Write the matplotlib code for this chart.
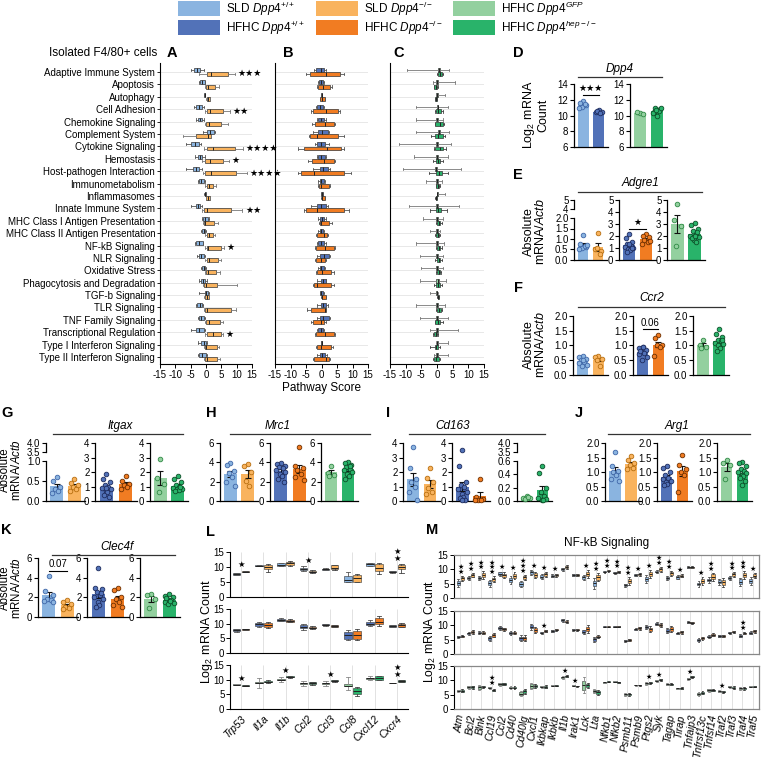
import numpy as np
import matplotlib
matplotlib.use('Agg')
import matplotlib.pyplot as plt
from matplotlib.patches import Rectangle

plt.rcParams['font.family'] = ['Liberation Sans', 'DejaVu Sans']
plt.rcParams['mathtext.fontset'] = 'custom'
plt.rcParams['mathtext.rm'] = 'Liberation Sans'
plt.rcParams['mathtext.it'] = 'Liberation Sans:italic'
plt.rcParams['mathtext.bf'] = 'Liberation Sans:bold'
plt.rcParams['axes.unicode_minus'] = False

# ---------------- colours / groups ----------------
C_SLD_WT, C_HFHC_WT = '#8AB4E0', '#5272B8'
C_SLD_KO, C_HFHC_KO = '#F9B35E', '#F17C22'
C_GFP, C_HEP = '#93D09F', '#29B36A'
E_SLD_WT, E_HFHC_WT = '#3F67A8', '#1E2C5E'
E_SLD_KO, E_HFHC_KO = '#B86F10', '#6E3000'
E_GFP, E_HEP = '#2F8A45', '#0C4F28'

GROUP_LABELS = [r"SLD $\mathit{Dpp4}^{+/+}$", r"HFHC $\mathit{Dpp4}^{+/+}$",
                r"SLD $\mathit{Dpp4}^{-/-}$", r"HFHC $\mathit{Dpp4}^{-/-}$",
                r"HFHC $\mathit{Dpp4}^{\mathit{GFP}}$", r"HFHC $\mathit{Dpp4}^{\mathit{hep}-/-}$"]
GROUP_COLORS = [C_SLD_WT, C_HFHC_WT, C_SLD_KO, C_HFHC_KO, C_GFP, C_HEP]

# ---------------- panels A-C: pathway scores (whislo, q1, med, q3, whishi) ----------------
PATHWAYS = ["Adaptive Immune System", "Apoptosis", "Autophagy", "Cell Adhesion",
            "Chemokine Signaling", "Complement System", "Cytokine Signaling", "Hemostasis",
            "Host-pathogen Interaction", "Immunometabolism", "Inflammasomes",
            "Innate Immune System", "MHC Class I Antigen Presentation",
            "MHC Class II Antigen Presentation", "NF-kB Signaling", "NLR Signaling",
            "Oxidative Stress", "Phagocytosis and Degradation", "TGF-b Signaling",
            "TLR Signaling", "TNF Family Signaling", "Transcriptional Regulation",
            "Type I Interferon Signaling", "Type II Interferon Signaling"]

A_SLD_WT = [(-5.0,-3.8,-2.8,-2.0,-0.6),(-2.3,-2.0,-1.2,-0.4,-0.2),(-0.6,-0.5,-0.4,-0.3,-0.2),
            (-3.8,-3.2,-2.3,-1.3,-0.6),(-3.2,-2.7,-2.0,-1.4,-0.7),(-0.9,0.2,1.3,2.6,3.0),
            (-6.6,-4.9,-3.6,-2.3,-1.7),(-3.6,-2.6,-1.9,-1.3,-0.4),(-6.6,-4.4,-3.3,-2.3,-1.4),
            (-2.7,-2.3,-1.5,-0.65,-0.2),(-0.5,-0.4,-0.25,-0.1,0.0),(-4.8,-3.2,-2.6,-2.0,-1.3),
            (-1.3,-1.1,-0.3,0.65,0.9),(-1.6,-1.2,-0.7,-0.2,0.0),(-3.5,-3.2,-2.2,-1.1,-0.9),
            (-2.9,-2.3,-1.5,-0.65,-0.4),(-1.6,-1.4,-0.8,-0.2,0.0),(-2.2,-1.6,-0.9,-0.2,0.2),
            (-2.3,-0.4,0.0,0.65,1.1),(-3.3,-2.8,-2.0,-1.3,-1.1),(-2.7,-2.3,-1.5,-0.65,-0.2),
            (-5.0,-3.2,-2.2,-0.65,-0.2),(-2.6,-1.6,-0.8,0.0,0.2),(-2.6,-2.2,-1.2,0.0,0.4)]
A_SLD_KO = [(-2.2,0.2,1.5,7.3,9.5),(-0.3,-0.1,0.8,3.0,4.1),(0.1,0.2,0.7,1.3,1.4),
            (-0.3,0.2,1.3,5.6,7.8),(-0.4,0.0,1.1,4.9,7.2),(-7.6,-3.2,0.8,1.5,1.7),
            (-0.5,0.2,2.4,9.5,12.1),(-1.4,-0.2,1.3,5.6,7.6),(-0.9,-0.4,1.5,9.8,13.4),
            (-0.2,0.2,1.1,2.4,3.4),(0.0,0.1,0.6,1.2,1.3),(-1.2,-0.65,0.2,8.0,11.9),
            (-1.0,-0.65,-0.4,2.7,3.9),(-0.2,0.2,1.1,2.2,2.8),(-0.2,0.4,0.8,5.0,5.9),
            (-0.2,0.4,1.1,4.0,4.8),(-0.4,0.0,0.6,3.2,4.6),(-1.1,-0.65,0.0,3.5,10.2),
            (-0.6,-0.4,0.2,0.9,1.1),(-0.65,-0.3,0.2,8.3,9.8),(-0.4,0.0,0.9,4.6,5.4),
            (-0.2,0.4,2.2,5.0,5.4),(-0.65,-0.2,0.0,3.5,4.1),(-0.8,-0.4,0.2,3.7,4.6)]
A_STARS = ["***","","","**","","","****","*","****","","","**","","","*","","","","","","","*","",""]

B_HFHC_WT = [(-2.4,-1.9,-0.3,0.7,1.6),(-1.2,-0.8,-0.1,0.5,0.7),(-0.2,-0.1,0.0,0.2,0.3),
             (-1.9,-1.4,-0.5,0.5,0.9),(-1.6,-1.2,-0.3,0.7,1.3),(-2.7,-1.2,0.2,2.0,2.3),
             (-2.0,-1.4,-0.3,1.1,2.3),(-1.6,-1.1,-0.1,1.1,1.6),(-2.7,-0.5,0.5,2.1,2.6),
             (-1.1,-0.6,-0.1,0.7,1.0),(-0.3,-0.3,0.0,0.4,0.5),(-3.3,-1.4,-0.3,1.6,2.0),
             (-1.1,-0.5,0.0,0.7,1.6),(-1.2,-0.6,-0.1,0.5,0.9),(-1.4,-1.1,-0.3,0.7,1.3),
             (-1.4,-0.5,0.7,2.3,2.6),(-1.2,-0.5,-0.1,0.7,1.0),(-1.4,-0.3,0.5,1.3,1.6),
             (-0.6,-0.5,-0.1,0.5,0.7),(-1.4,-0.3,0.5,1.6,2.0),(-1.6,-0.5,0.5,2.3,2.9),
             (-1.4,-1.2,-0.3,0.5,0.7),(-0.3,-0.2,0.0,0.2,0.3),(-1.4,-0.5,0.2,1.0,1.8)]
B_HFHC_KO = [(-4.9,-3.7,1.5,6.0,7.1),(-1.6,-1.2,0.5,2.9,3.4),(-0.6,-0.5,0.1,1.0,1.1),
             (-3.5,-2.7,1.3,5.2,6.0),(-3.0,-2.2,1.0,3.9,4.4),(-4.0,-3.7,-1.4,5.2,7.1),
             (-7.5,-5.6,1.8,6.3,7.1),(-4.3,-3.1,0.7,3.9,4.4),(-7.7,-6.7,-2.4,7.1,9.5),
             (-1.2,-0.8,-0.3,2.3,2.9),(-0.1,0.0,0.3,1.1,1.2),(-5.8,-5.1,-1.4,7.1,9.0),
             (-0.8,-0.6,-0.3,2.5,3.4),(-1.9,-1.4,0.7,1.8,2.1),(-2.0,-1.7,1.1,3.9,4.4),
             (-2.1,-1.7,-0.3,1.0,1.5),(-1.9,-1.6,0.2,3.0,3.9),(-2.9,-2.4,-1.4,3.0,3.9),
             (-0.1,0.0,0.3,1.3,1.5),(-4.8,-3.3,1.1,1.3,1.6),(-3.5,-2.7,-0.1,0.9,1.6),
             (-2.2,-1.9,1.1,3.9,4.4),(-1.7,-1.4,-0.3,3.0,3.6),(-2.9,-2.4,1.3,2.5,2.8)]

C_HFHC_GFP = [(-9.7,0.2,0.5,0.8,3.7),(-1.2,-0.3,0.0,0.3,5.8),(-0.3,-0.2,0.0,0.2,2.4),
              (-6.6,-0.1,0.2,0.4,3.4),(-6.6,-0.3,0.0,0.3,2.0),(-6.6,0.2,0.6,0.9,3.8),
              (-12.0,-0.3,0.0,0.3,4.6),(-7.2,-0.2,0.1,0.4,3.5),(-10.9,-0.5,-0.2,0.1,7.6),
              (-3.6,-0.2,0.0,0.2,1.6),(0.0,0.0,0.1,0.2,2.4),(-8.8,-0.3,0.0,0.3,7.0),
              (-4.4,-0.2,0.0,0.2,2.0),(-2.2,-0.2,0.0,0.2,1.0),(-6.8,-0.2,0.0,0.2,2.2),
              (-5.5,-0.3,0.0,0.2,2.0),(-5.0,-0.2,0.0,0.2,2.0),(-5.5,-0.2,0.3,0.6,2.8),
              (-2.3,-0.2,0.0,0.1,0.3),(-6.6,-0.3,0.0,0.3,2.6),(-5.5,-0.3,0.0,0.3,3.4),
              (-2.2,-0.3,0.0,0.3,6.8),(-0.4,-0.1,0.1,0.3,3.4),(-0.8,-0.4,-0.1,0.2,3.4)]
C_HFHC_HEP = [(0.0,0.3,0.9,1.5,1.8),(-1.0,-0.8,-0.4,-0.1,0.2),(-0.7,-0.6,-0.35,-0.1,0.0),
              (-0.6,-0.3,0.4,1.2,1.8),(-0.6,-0.5,1.1,2.0,2.3),(-2.0,-0.6,0.2,2.0,2.4),
              (-1.0,-0.6,1.1,2.0,3.0),(-1.4,-0.3,0.3,0.8,2.0),(-2.4,-0.3,0.5,1.6,3.6),
              (-0.4,-0.2,0.2,0.6,0.9),(-0.5,-0.4,-0.25,-0.1,0.0),(-2.2,-0.3,0.4,1.2,3.2),
              (-0.3,0.0,0.5,1.1,1.6),(-0.5,-0.3,0.2,0.6,0.9),(-0.3,0.0,0.5,1.0,1.6),
              (-0.5,0.0,0.5,1.0,1.6),(-0.3,0.0,0.5,0.9,1.2),(-0.9,-0.3,0.2,0.8,1.6),
              (0.1,0.2,0.35,0.5,0.6),(-0.3,0.0,0.6,1.2,1.6),(-0.6,-0.5,0.2,0.8,1.8),
              (-1.2,-0.8,-0.4,0.0,0.3),(-2.2,-0.6,-0.2,0.2,1.1),(-1.4,-1.0,-0.3,0.6,1.0)]
SCORE_TICKS = [-15, -10, -5, 0, 5, 10, 15]

# ---------------- panels D-K: individual values ----------------
D_SLD_WT = [11.8, 11.6, 11.3, 11.1, 11.4, 11.0]
D_HFHC_WT = [10.7, 10.5, 10.4, 10.6, 10.3]
D_GFP = [10.3, 10.4, 10.2]
D_HEP = [10.0, 10.5, 10.8, 11.0, 10.6, 10.3, 10.9, 10.7]

E_SLD_WT_V = [1.2, 0.75, 0.6, 0.55, 0.65, 0.5, 0.7]
E_SLD_KO_V = [1.3, 0.5, 0.45, 0.55, 0.3]
E_HFHC_WT_V = [2.2, 1.8, 1.5, 1.3, 1.2, 1.1, 1.0, 0.9, 0.8, 0.7, 1.0, 1.3]
E_HFHC_KO_V = [2.2, 2.0, 1.9, 1.7, 1.5, 1.3, 1.6]
E_GFP_V = [4.7, 3.3, 2.8, 1.2]
E_HEP_V = [3.1, 2.9, 2.6, 2.4, 2.2, 2.0, 1.9, 1.7, 1.5, 1.8, 2.3, 2.0]

F_SLD_WT = [0.65, 0.6, 0.55, 0.5, 0.45, 0.4, 0.35, 0.3, 0.5]
F_SLD_KO = [0.65, 0.6, 0.55, 0.5, 0.3]
F_HFHC_WT = [0.95, 0.9, 0.85, 0.8, 0.75, 0.7, 0.6, 0.5, 0.95, 0.8]
F_HFHC_KO = [1.35, 1.25, 1.0, 1.0, 0.95, 0.65]
F_GFP = [1.2, 1.0, 0.95, 0.9]
F_HEP = [1.55, 1.4, 1.3, 1.2, 1.15, 1.1, 1.05, 1.0, 0.9, 0.8, 1.2]

G_SLD_WT = [0.6, 0.5, 0.35, 0.3, 0.25, 0.2]
G_SLD_KO = [0.55, 0.45, 0.4, 0.35, 0.3, 0.25]
G_HFHC_WT = [1.85, 1.5, 1.3, 1.1, 1.0, 0.9, 0.8, 0.7, 0.6, 0.4, 0.3, 0.9]
G_HFHC_KO = [1.7, 1.4, 1.2, 1.1, 1.0, 0.8]
G_GFP = [2.9, 1.6, 1.2, 0.6]
G_HEP = [1.7, 1.5, 1.3, 1.1, 1.0, 0.9, 0.85, 0.8, 0.75, 0.7, 1.0]

H_SLD_WT = [3.9, 3.7, 3.1, 2.9, 2.5, 2.0, 1.6]
H_SLD_KO = [3.8, 3.6, 3.0, 2.1, 1.6]
H_HFHC_WT = [3.9, 3.8, 3.6, 3.5, 3.4, 3.2, 3.0, 2.8, 2.6, 2.3, 2.0]
H_HFHC_KO = [5.6, 3.6, 3.4, 3.2, 2.8, 2.5, 2.2]
H_GFP = [3.6, 2.9, 2.7, 2.6]
H_HEP = [4.0, 3.9, 3.7, 3.5, 3.3, 3.2, 3.0, 2.8, 2.6, 2.3, 3.6]

I_SLD_WT = [3.7, 2.3, 1.5, 1.3, 1.0, 0.6, 0.1]
I_SLD_KO = [2.3, 1.6, 1.3, 0.9, 0.6, 0.5]
I_HFHC_WT = [3.5, 2.4, 1.3, 1.1, 1.0, 0.8, 0.6, 0.5, 0.3, 0.2, 0.1, 0.1]
I_HFHC_KO = [1.5, 0.3, 0.15, 0.1, 0.1, 0.05]
I_GFP = [0.08, 0.05, 0.04, 0.03, 0.06]
I_HEP = [0.52, 0.42, 0.2, 0.14, 0.08, 0.05, 0.03, 0.02, 0.01]

J_SLD_WT = [1.7, 1.2, 1.05, 1.0, 0.9, 0.75, 0.7]
J_SLD_KO = [1.55, 1.4, 1.3, 1.25, 1.15, 1.1]
J_HFHC_WT = [1.2, 1.15, 1.0, 0.9, 0.8, 0.75, 0.7, 0.65, 0.6, 0.55]
J_HFHC_KO = [1.6, 1.25, 1.1, 1.0, 0.9, 0.3]
J_GFP = [1.4, 1.3, 1.25, 0.75]
J_HEP = [1.35, 1.3, 1.2, 1.1, 1.05, 1.0, 0.95, 0.9, 0.85, 0.8, 0.7, 0.55]

K_SLD_WT = [4.2, 2.6, 2.2, 1.8, 1.7, 1.6, 1.5]
K_SLD_KO = [1.7, 1.5, 1.3, 1.0, 0.9, 0.8]
K_HFHC_WT = [5.0, 3.0, 2.8, 2.5, 2.2, 2.0, 1.8, 1.5, 1.2, 1.0, 2.4]
K_HFHC_KO = [2.9, 2.7, 2.0, 1.8, 1.5, 1.2, 1.0]
K_GFP = [2.3, 2.2, 1.8, 0.9]
K_HEP = [2.3, 2.1, 2.0, 1.8, 1.7, 1.5, 1.4, 1.3, 1.6, 1.9]

# ---------------- panel L ----------------
L_GENES = ["Trp53", "Il1a", "Il1b", "Ccl2", "Ccl3", "Ccl8", "Cxcl12", "Cxcr4"]
L_SLD_WT = [(7.3,7.5,7.8,8.0,8.1),(10.3,10.4,10.5,10.6,10.7),(10.2,10.5,10.8,11.2,11.5),(8.8,9.0,9.3,9.6,10.2),
            (8.9,9.1,9.3,9.5,9.6),(5.0,5.0,5.8,7.0,8.3),(10.3,10.5,11.0,11.3,11.5),(8.0,8.2,8.5,8.7,8.8)]
L_SLD_KO = [(8.2,8.3,8.5,8.7,8.8),(8.5,9.3,10.0,10.8,11.0),(10.5,10.8,11.2,11.8,12.0),(8.0,8.2,8.5,8.8,9.0),
            (9.1,9.3,9.8,10.6,10.8),(5.0,5.0,6.2,7.5,7.8),(7.8,8.8,9.8,11.0,11.2),(8.0,9.4,10.0,10.8,11.0)]
L_HFHC_WT = [(7.3,7.5,7.8,8.1,8.2),(9.0,9.3,9.8,10.3,10.5),(10.9,11.0,11.3,11.6,11.8),(8.0,8.5,9.0,9.5,9.8),
             (9.3,9.4,9.6,9.8,9.9),(4.5,4.8,6.0,7.2,7.8),(9.3,9.6,10.0,10.4,11.2),(8.8,9.0,9.3,9.5,9.6)]
L_HFHC_KO = [(7.9,8.0,8.05,8.1,8.2),(8.6,8.9,9.5,10.2,10.4),(10.4,10.6,10.9,11.3,11.5),(8.2,8.4,8.6,9.0,9.1),
             (8.7,8.9,9.3,9.6,9.7),(4.5,4.8,6.2,7.5,8.3),(9.3,9.8,10.4,11.8,12.5),(8.8,9.0,9.5,10.0,10.2)]
L_GFP = [(8.1,8.2,8.3,8.4,8.5),(7.3,8.7,9.0,9.3,10.5),(9.3,9.8,10.0,10.2,11.0),(8.0,8.5,8.7,8.9,9.5),
         (8.0,8.5,8.7,8.9,9.5),(6.5,7.8,8.0,8.5,11.0),(10.0,10.3,10.5,10.7,11.3),(8.8,8.85,8.9,8.95,9.0)]
L_HEP = [(7.8,7.9,8.0,8.1,8.2),(8.8,9.1,9.3,9.5,9.8),(10.7,10.8,11.0,11.2,11.3),(8.3,8.5,8.8,9.2,9.3),
         (9.3,9.4,9.6,9.8,9.9),(4.5,5.0,6.0,7.0,7.5),(9.8,10.0,10.5,11.2,11.4),(9.2,9.3,9.5,9.8,9.9)]
L_STARS_SLD = ["*", "", "", "*", "", "", "", "**"]
L_STARS_HFHC = ["", "", "", "", "", "", "", ""]
L_STARS_HEP = ["*", "", "*", "", "*", "", "", "**"]

# ---------------- panel M ----------------
M_GENES = ["Atm","Bcl2","Blnk","Ccl19","Ccl2","Cd40","Cd40lg","Cxcl1","Ikbkap","Ikbkb","Il1b","Irak1",
           "Lck","Lta","Nfkb1","Nfkb2","Psmb11","Psmb9","Ptgs2","Syk","Tagap","Tirap","Tnfaip3",
           "Tnfrsf13c","Tnfsf14","Traf2","Traf3","Traf4","Traf5"]
M_SLD_WT_MED = [5.3,6.9,6.9,5.1,8.5,6.3,4.9,8.9,7.4,7.8,10.0,8.0,7.2,5.1,9.2,8.8,4.5,8.0,6.6,9.2,7.1,7.2,10.7,4.9,6.3,5.7,6.9,5.7,6.0]
M_SLD_WT_IQR = [0.8,0.4,0.4,0.7,0.4,0.8,0.6,0.4,0.5,0.3,0.3,0.2,0.5,1.0,0.2,0.2,0.3,0.2,0.8,0.3,0.4,0.4,0.2,0.5,0.5,0.6,0.4,0.8,0.8]
M_SLD_KO_MED = [6.9,7.9,8.0,6.5,8.0,7.8,7.2,8.0,8.2,8.0,10.9,8.0,8.4,7.2,9.5,9.2,6.0,8.2,8.4,10.0,8.6,7.8,10.7,6.0,7.4,5.5,8.2,8.0,7.8]
M_SLD_KO_IQR = [0.5,0.4,0.7,0.6,0.5,0.7,0.5,0.6,0.4,0.3,0.4,0.2,0.7,0.8,0.2,0.2,0.8,0.3,0.8,0.5,0.5,0.3,0.2,0.8,0.8,0.9,0.4,0.7,0.5]
M_HFHC_WT_MED = [6.0,7.2,7.5,5.5,9.0,7.4,5.5,9.5,7.4,8.0,11.8,8.4,7.8,5.2,9.5,9.5,4.6,8.6,9.5,10.5,8.1,7.2,11.0,4.9,6.1,6.3,7.4,6.3,7.4]
M_HFHC_WT_IQR = [0.2,0.3,0.3,0.5,0.4,0.4,0.6,0.6,0.2,0.2,0.3,0.2,0.4,0.5,0.1,0.1,0.2,0.2,0.4,0.3,0.5,0.2,0.2,0.3,0.2,0.2,0.2,0.3,0.3]
M_HFHC_KO_MED = [6.2,7.7,7.4,6.5,8.6,7.4,5.5,8.4,8.0,8.4,11.3,8.4,8.7,6.1,9.5,9.5,4.9,9.0,8.6,10.1,8.7,7.6,10.9,5.5,6.7,6.3,7.8,7.2,8.0]
M_HFHC_KO_IQR = [0.2,0.4,0.3,0.4,0.3,0.3,0.6,0.6,0.2,0.2,0.3,0.2,0.8,0.3,0.1,0.1,0.2,0.3,0.6,0.4,0.6,0.3,0.2,0.3,0.3,0.2,0.2,0.2,0.3]
M_GFP_MED = [6.4,7.6,7.6,7.4,8.7,7.5,5.4,8.0,7.8,8.1,11.0,8.1,8.3,6.2,9.3,9.5,5.1,8.3,8.9,9.8,8.6,7.2,10.6,5.2,6.6,6.2,7.8,7.2,7.8]
M_GFP_IQR = [0.2,0.3,0.5,0.2,0.3,0.2,0.5,0.6,0.2,0.1,0.3,0.1,1.5,0.4,0.1,0.1,0.3,0.1,0.2,0.2,0.2,0.1,0.2,0.4,0.3,0.2,0.2,0.3,0.1]
M_HEP_MED = [6.4,7.6,7.8,6.5,8.7,7.5,6.2,8.0,7.8,8.1,11.4,8.0,8.3,5.8,9.5,9.3,5.1,8.3,9.2,10.2,8.6,7.2,11.2,5.7,6.6,6.0,7.5,7.2,7.8]
M_HEP_IQR = [0.3,0.3,0.2,0.2,0.2,0.3,0.5,0.4,0.3,0.1,0.2,0.1,0.5,0.5,0.1,0.1,0.3,0.1,0.2,0.2,0.2,0.2,0.2,0.3,0.2,0.2,0.2,0.3,0.1]
M_STARS_SLD = ["**","**","**","***","*","*","***","*","*","*","","","*","**","**","**","**","*","*","**","**","*","","*","**","","**","**","*"]
M_STARS_HFHC = ["","","","","","","","","*","","","","","","","","","","","","","","","","","","","**",""]
M_STARS_HEP = ["","","","**","","","","","","","*","*","","","","","","","*","*","","","*","","","*","","",""]

# ================= drawing =================
W, H = 761, 758
fig = plt.figure(figsize=(W / 100, H / 100), dpi=100)


def pax(x0, y0, x1, y1):
    ax = fig.add_axes([x0 / W, 1 - y1 / H, (x1 - x0) / W, (y1 - y0) / H])
    ax.patch.set_alpha(0)
    return ax


def bstats(t):
    return dict(whislo=t[0], q1=t[1], med=t[2], q3=t[3], whishi=t[4], fliers=[])


def draw_boxes(ax, data, positions, width, face, horiz, wcolor='#444', lw=0.5):
    st = [bstats(t) for t in data]
    kw = dict(positions=positions, widths=width, patch_artist=True, showfliers=False,
              boxprops=dict(facecolor=face, edgecolor='#333', linewidth=lw),
              medianprops=dict(color='#222', linewidth=0.7),
              whiskerprops=dict(color=wcolor, linewidth=0.6),
              capprops=dict(color=wcolor, linewidth=0.6),
              capwidths=width * 0.6, manage_ticks=False)
    try:
        ax.bxp(st, orientation='horizontal' if horiz else 'vertical', **kw)
    except TypeError:
        ax.bxp(st, vert=not horiz, **kw)


def star_text(n):
    return '\u2605' * n


# ---- A, B, C ----
rows = np.arange(len(PATHWAYS))
abc = [((160, 63, 252, 364), A_SLD_WT, A_SLD_KO, C_SLD_WT, C_SLD_KO, '#555', '#777'),
       ((275, 63, 368, 364), B_HFHC_WT, B_HFHC_KO, C_HFHC_WT, C_HFHC_KO, '#555', '#555'),
       ((390, 63, 484, 364), C_HFHC_GFP, C_HFHC_HEP, C_GFP, C_HEP, '#777', '#444')]
for k, (rect, s1, s2, c1, c2, w1, w2) in enumerate(abc):
    ax = pax(*rect)
    for r in rows:
        ax.axhline(r, color='#e4e4e4', lw=0.6, zorder=0)
    draw_boxes(ax, s1, rows - 0.17, 0.32, c1, True, w1)
    draw_boxes(ax, s2, rows + 0.17, 0.32, c2, True, w2)
    ax.set_xlim(-15, 15)
    ax.set_ylim(23.56, -0.73)
    ax.set_xticks(SCORE_TICKS)
    ax.set_xticklabels([str(t) for t in SCORE_TICKS], fontsize=7)
    ax.tick_params(axis='x', length=3, width=0.7, pad=1)
    for s in ['top', 'right']:
        ax.spines[s].set_visible(False)
    ax.spines['left'].set_linewidth(0.8)
    ax.spines['bottom'].set_linewidth(0.8)
    if k == 0:
        ax.set_yticks(rows)
        ax.set_yticklabels(PATHWAYS, fontsize=7.05)
        ax.tick_params(axis='y', length=2.5, width=0.6, pad=1)
        for r, st in enumerate(A_STARS):
            if st:
                ax.text(A_SLD_KO[r][4] + 0.8, r + 0.15, star_text(len(st)), fontsize=6.5,
                        family='DejaVu Sans', va='center', ha='left')
    else:
        ax.set_yticks([])


# ---- dot / bar panels ----
OFFS = [0.0, -0.2, 0.2, -0.1, 0.1, -0.25, 0.25, -0.05, 0.05, -0.15, 0.15, 0.0]


def dot_sub(ax, groups, cols, edges):
    for i, (vals, c, e) in enumerate(zip(groups, cols, edges)):
        v = np.asarray(vals, float)
        m = v.mean()
        sem = v.std(ddof=1) / np.sqrt(len(v))
        ax.bar(i, m, width=0.72, color=c, zorder=1)
        ax.errorbar(i, m, yerr=sem, color='#111', capsize=2, lw=0.8, capthick=0.8, zorder=3)
        xs = i + np.array([OFFS[j % len(OFFS)] for j in range(len(v))])
        ax.scatter(xs, v, s=11, facecolor=c, edgecolor=e, linewidth=0.6, zorder=4, clip_on=False)
    ax.set_xlim(-0.6, 1.6)


def style(ax, ylim, ticks, fmt='%g', bottom=True):
    ax.set_ylim(*ylim)
    ax.set_yticks(ticks)
    ax.set_yticklabels([fmt % t for t in ticks], fontsize=7)
    for s in ['top', 'right']:
        ax.spines[s].set_visible(False)
    ax.spines['left'].set_linewidth(0.9)
    ax.spines['bottom'].set_linewidth(0.9)
    ax.spines['bottom'].set_visible(bottom)
    ax.set_xticks([])
    ax.tick_params(axis='y', length=3, width=0.8, pad=1)


def sig(ax, y, text, fs=6.5, star=True):
    ax.plot([0, 1], [y, y], color='k', lw=0.8, clip_on=False)
    yl = ax.get_ylim()
    dy = (yl[1] - yl[0]) * 0.03
    ax.text(0.5, y + dy, text, ha='center', va='bottom', fontsize=fs,
            family='DejaVu Sans' if star else None, clip_on=False)


TRIO_COLS = [(C_SLD_WT, C_SLD_KO), (C_HFHC_WT, C_HFHC_KO), (C_GFP, C_HEP)]
TRIO_EDGES = [(E_SLD_WT, E_SLD_KO), (E_HFHC_WT, E_HFHC_KO), (E_GFP, E_HEP)]


def trio(rects, groups, ylims, ticks, fmts, broken=None):
    axes = []
    for k in range(3):
        ax = pax(*rects[k])
        dot_sub(ax, groups[k], TRIO_COLS[k], TRIO_EDGES[k])
        style(ax, ylims[k], ticks[k], fmts[k])
        axes.append(ax)
    if broken is not None:
        k, rect, ylim, tk, fmt = broken
        tax = pax(*rect)
        style(tax, ylim, tk, fmt, bottom=False)
    return axes


# D
axD1 = pax(574, 84, 608, 147)
dot_sub(axD1, [D_SLD_WT, D_HFHC_WT], [C_SLD_WT, C_HFHC_WT], [E_SLD_WT, E_HFHC_WT])
style(axD1, (6, 14), [6, 8, 10, 12, 14])
sig(axD1, 12.6, star_text(3))
axD2 = pax(630, 84, 667, 147)
dot_sub(axD2, [D_GFP, D_HEP], [C_GFP, C_HEP], [E_GFP, E_HEP])
style(axD2, (6, 14), [6, 8, 10, 12, 14])

# E
axE = trio([(574, 218, 607, 260), (619, 200, 656, 260), (667, 200, 705, 260)],
           [(E_SLD_WT_V, E_SLD_KO_V), (E_HFHC_WT_V, E_HFHC_KO_V), (E_GFP_V, E_HEP_V)],
           [(0, 2), (0, 5), (0, 5)],
           [[0, 0.5, 1.0, 1.5, 2.0], [0, 1, 2, 3, 4, 5], [0, 1, 2, 3, 4, 5]],
           ['%.1f', '%g', '%g'],
           broken=(0, (574, 200, 607, 209), (4, 5), [4, 5], '%g'))
sig(axE[1], 2.6, star_text(1))

# F
axF = trio([(573, 316, 608, 375), (633, 316, 668, 375), (693, 316, 729, 375)],
           [(F_SLD_WT, F_SLD_KO), (F_HFHC_WT, F_HFHC_KO), (F_GFP, F_HEP)],
           [(0, 2), (0, 2), (0, 2)], [[0, 0.5, 1.0, 1.5, 2.0]] * 3, ['%.1f'] * 3)
sig(axF[1], 1.55, "0.06", fs=7, star=False)

# G
axG = trio([(46, 461, 85, 501), (95, 443, 137, 501), (150, 443, 188, 501)],
           [(G_SLD_WT, G_SLD_KO), (G_HFHC_WT, G_HFHC_KO), (G_GFP, G_HEP)],
           [(0, 1), (0, 4), (0, 4)], [[0, 0.5, 1.0], [0, 1, 2, 3, 4], [0, 1, 2, 3, 4]],
           ['%.1f', '%g', '%g'],
           broken=(0, (46, 443, 85, 452), (3.5, 4.0), [3.5, 4.0], '%.1f'))

# H
axH = trio([(220, 443, 258, 501), (270, 443, 310, 501), (321, 443, 358, 501)],
           [(H_SLD_WT, H_SLD_KO), (H_HFHC_WT, H_HFHC_KO), (H_GFP, H_HEP)],
           [(0, 6)] * 3, [[0, 2, 4, 6]] * 3, ['%g'] * 3)

# I
axI = trio([(403, 443, 440, 501), (452, 443, 490, 501), (517, 461, 552, 501)],
           [(I_SLD_WT, I_SLD_KO), (I_HFHC_WT, I_HFHC_KO), (I_GFP, I_HEP)],
           [(0, 4), (0, 4), (0, 0.6)], [[0, 1, 2, 3, 4], [0, 1, 2, 3, 4], [0, 0.2, 0.4, 0.6]],
           ['%g', '%g', '%.1f'],
           broken=(2, (517, 443, 552, 452), (3.5, 4.0), [3.5, 4.0], '%.1f'))

# J
axJ = trio([(605, 443, 641, 501), (657, 443, 692, 501), (717, 443, 752, 501)],
           [(J_SLD_WT, J_SLD_KO), (J_HFHC_WT, J_HFHC_KO), (J_GFP, J_HEP)],
           [(0, 2)] * 3, [[0, 0.5, 1.0, 1.5, 2.0]] * 3, ['%.1f'] * 3)

# K
axK = trio([(38, 558, 78, 617), (87, 558, 129, 617), (140, 558, 180, 617)],
           [(K_SLD_WT, K_SLD_KO), (K_HFHC_WT, K_HFHC_KO), (K_GFP, K_HEP)],
           [(0, 6)] * 3, [[0, 2, 4, 6]] * 3, ['%g'] * 3)
sig(axK[0], 4.7, "0.07", fs=7, star=False)


# ---- L and M ----
def stacked(rects, sets, genes, xlim, off, width, rot, star_sets, frame, star_fs):
    axes = []
    x = np.arange(len(genes))
    for k, (rect, (s1, s2, c1, c2, w1)) in enumerate(zip(rects, sets)):
        ax = pax(*rect)
        ax.vlines(x, 0, 15, color='#e2e2e2', lw=0.7, zorder=0)
        draw_boxes(ax, s1, x - off, width, c1, False, w1, lw=0.4)
        draw_boxes(ax, s2, x + off, width, c2, False, '#444', lw=0.4)
        ax.set_xlim(*xlim)
        ax.set_ylim(0, 15)
        ax.set_yticks([0, 5, 10, 15])
        ax.set_yticklabels(['0', '5', '10', '15'], fontsize=7)
        ax.tick_params(axis='y', length=3, width=0.7, pad=1)
        ax.tick_params(axis='x', length=0)
        if frame:
            for s in ['top', 'right', 'bottom']:
                ax.spines[s].set_color('#888')
                ax.spines[s].set_linewidth(0.9)
        else:
            ax.spines['top'].set_visible(False)
            ax.spines['right'].set_visible(False)
        ax.spines['left'].set_linewidth(0.8)
        for i, st in enumerate(star_sets[k]):
            if st:
                top = max(s1[i][4], s2[i][4])
                ax.text(i, top + 0.4, '\n'.join(['\u2605'] * len(st)), ha='center', va='bottom',
                        fontsize=star_fs, family='DejaVu Sans', linespacing=0.75, clip_on=False)
        if k == len(rects) - 1:
            ax.set_xticks(x)
            if rot == 90:
                ax.set_xticklabels(genes, rotation=82, fontsize=7.5, style='italic', ha='center', va='top')
            else:
                ax.set_xticklabels(genes, rotation=rot, fontsize=7.5, style='italic', ha='right',
                                   rotation_mode='anchor')
        else:
            ax.set_xticks([])
        axes.append(ax)
    return axes


stacked([(230, 552, 408, 597), (230, 609, 408, 653), (230, 665, 408, 709)],
        [(L_SLD_WT, L_SLD_KO, C_SLD_WT, C_SLD_KO, '#555'),
         (L_HFHC_WT, L_HFHC_KO, C_HFHC_WT, C_HFHC_KO, '#555'),
         (L_GFP, L_HEP, C_GFP, C_HEP, '#888')],
        L_GENES, (-0.5, 7.5), 0.2, 0.34, 45, [L_STARS_SLD, L_STARS_HFHC, L_STARS_HEP], False, 6)


def msets(med, iqr):
    return [(m - 1.8 * q, m - q, m, m + q, m + 1.8 * q) for m, q in zip(med, iqr)]


stacked([(454, 555, 759, 598), (454, 611, 759, 654), (454, 666, 759, 709)],
        [(msets(M_SLD_WT_MED, M_SLD_WT_IQR), msets(M_SLD_KO_MED, M_SLD_KO_IQR), C_SLD_WT, C_SLD_KO, '#555'),
         (msets(M_HFHC_WT_MED, M_HFHC_WT_IQR), msets(M_HFHC_KO_MED, M_HFHC_KO_IQR), C_HFHC_WT, C_HFHC_KO, '#555'),
         (msets(M_GFP_MED, M_GFP_IQR), msets(M_HEP_MED, M_HEP_IQR), C_GFP, C_HEP, '#888')],
        M_GENES, (-0.6, 28.6), 0.19, 0.3, 90, [M_STARS_SLD, M_STARS_HFHC, M_STARS_HEP], True, 5)

# ---- overlay: legend, letters, titles, labels ----
ov = fig.add_axes([0, 0, 1, 1])
ov.set_xlim(0, W)
ov.set_ylim(H, 0)
ov.axis('off')
ov.patch.set_alpha(0)

for k, (lab, col) in enumerate(zip(GROUP_LABELS, GROUP_COLORS)):
    cx = [178, 316, 453][k // 2]
    cy = [1, 20][k % 2]
    ov.add_patch(Rectangle((cx, cy), 42, 15, facecolor=col, edgecolor='none'))
    ov.text(cx + 48, cy + 7.5, lab, fontsize=8.5, va='center', ha='left')

ov.text(157, 53, "Isolated F4/80+ cells", fontsize=8.5, ha='right', va='center')
for let, x, y in [("A", 167, 53), ("B", 283, 53), ("C", 393, 53), ("D", 513, 53), ("E", 513, 175),
                  ("F", 514, 288), ("G", 1, 413), ("H", 206, 413), ("I", 386, 413), ("J", 575, 413),
                  ("K", 1, 530), ("L", 206, 532), ("M", 426, 530)]:
    ov.text(x, y, let, fontsize=10.5, fontweight='bold', ha='left', va='center')

ov.text(321, 388, "Pathway Score", fontsize=8.5, ha='center', va='center')

for name, x, y, x0, x1, ly in [("Dpp4", 620, 69, 578, 662, 77), ("Adgre1", 640, 183, 578, 702, 192),
                               ("Ccr2", 652, 298, 578, 725, 307), ("Itgax", 120, 426, 53, 183, 434),
                               ("Mrc1", 278, 426, 230, 370, 434), ("Cd163", 453, 426, 409, 545, 434),
                               ("Arg1", 677, 426, 608, 750, 434), ("Clec4f", 117, 547, 52, 175, 555)]:
    ov.text(x, y, name, fontsize=8.5, style='italic', ha='center', va='center')
    ov.plot([x0, x1], [ly, ly], color='#333', lw=0.9)

ov.text(535, 115, "Log$_2$ mRNA\nCount", rotation=90, fontsize=9, ha='center', va='center', linespacing=1.0)
for x, y in [(535, 232), (535, 345)]:
    ov.text(x, y, "Absolute\nmRNA/$\\mathit{Actb}$", rotation=90, fontsize=9, ha='center', va='center',
            linespacing=1.0)
for x, y in [(11, 470), (11, 588)]:
    ov.text(x, y, "Absolute\nmRNA/$\\mathit{Actb}$", rotation=90, fontsize=8.3, ha='center', va='center',
            linespacing=0.95)
ov.text(207, 631, "Log$_2$ mRNA Count", rotation=90, fontsize=9, ha='center', va='center')
ov.text(430, 631, "Log$_2$ mRNA Count", rotation=90, fontsize=8.8, ha='center', va='center')
ov.text(607, 543, "NF-kB Signaling", fontsize=8.5, ha='center', va='center')

fig.savefig('out.png', dpi=100)
